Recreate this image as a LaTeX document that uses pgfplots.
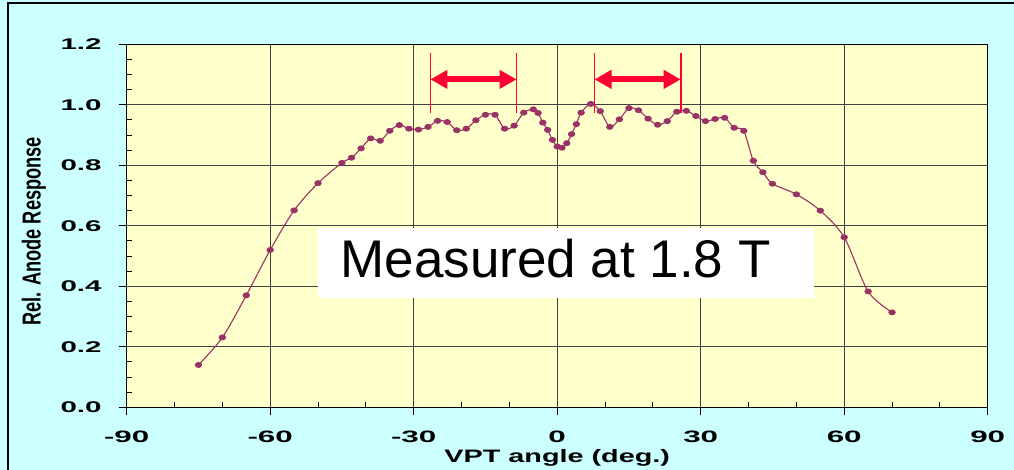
\documentclass[border=0pt]{standalone}
\usepackage{pgfplots}
\pgfplotsset{compat=1.18}
\usepackage{pgfplotstable}
\usepackage{fontspec}
\setmainfont{Liberation Sans}
\usepackage{graphicx}
\usetikzlibrary{arrows.meta}
\definecolor{bgcyan}{RGB}{204,255,255}
\definecolor{plotyellow}{RGB}{255,255,204}
\definecolor{curvecol}{RGB}{153,51,102}
\definecolor{arrowred}{RGB}{255,0,51}

\pgfplotstableread{
x y
-75 0.140
-70 0.231
-65 0.370
-60 0.520
-55 0.651
-50 0.741
-45 0.808
-43 0.825
-41 0.856
-39 0.889
-37 0.881
-35 0.914
-33 0.933
-31 0.921
-29 0.918
-27 0.927
-25 0.947
-23 0.943
-21 0.916
-19 0.921
-17 0.949
-15 0.967
-13 0.967
-11 0.921
-9 0.931
-7 0.974
-5 0.985
-4 0.973
-3 0.941
-2 0.917
-1 0.884
0 0.862
1 0.858
2 0.873
3 0.903
4 0.936
5 0.974
7 1.003
9 0.979
11 0.927
13 0.952
15 0.989
17 0.982
19 0.954
21 0.934
23 0.946
25 0.977
27 0.980
29 0.963
31 0.946
33 0.953
35 0.957
37 0.924
39 0.914
41 0.815
43 0.777
45 0.739
50 0.704
55 0.650
60 0.562
65 0.383
70 0.314
}\datatable

\begin{document}
\begin{tikzpicture}
\useasboundingbox (0,0) rectangle (1014bp,470bp);
\fill[bgcyan] (0,0) rectangle (1014bp,470bp);
\draw[line width=2bp] (8bp,0) -- (8bp,467bp) -- (1014bp,467bp);
\begin{axis}[
  at={(126.7bp,62.7bp)}, anchor=south west,
  scale only axis, width=861bp, height=363bp,
  xmin=-90, xmax=90, ymin=0, ymax=1.2,
  axis background/.style={fill=plotyellow},
  axis line style={black, line width=1.3bp},
  xtick={-90,-60,-30,0,30,60,90},
  ytick={0,0.2,0.4,0.6,0.8,1.0,1.2},
  minor x tick num=2, minor y tick num=3,
  xtick pos=left, ytick pos=left,
  tick align=outside,
  major tick length=8bp, minor tick length=5bp,
  tick style={black, line width=1bp},
  minor x tick style={yshift=5bp},
  minor y tick style={xshift=5bp},
  grid=major,
  major grid style={black!75, line width=1.2bp},
  /pgf/number format/assume math mode=true,
  xticklabel={\scalebox{1.9}[1]{\pgfmathprintnumber{\tick}}},
  yticklabel={\scalebox{1.9}[1]{\pgfmathprintnumber[fixed,fixed zerofill,precision=1]{\tick}}},
  xticklabel style={font=\fontsize{16.5bp}{18bp}\selectfont\bfseries, anchor=north, inner sep=0pt, yshift=-15bp},
  yticklabel style={font=\fontsize{15.5bp}{18bp}\selectfont\bfseries, anchor=east, inner sep=0pt, xshift=-17bp},
  xlabel={\scalebox{1.6}[1]{VPT angle (deg.)}},
  xlabel style={font=\fontsize{18bp}{20bp}\selectfont\bfseries, at={(axis description cs:0.5,-0.1507)}, anchor=base},
  ylabel={\scalebox{0.70}[1]{Rel. Anode Response}},
  ylabel style={font=\fontsize{26bp}{28bp}\selectfont\bfseries, at={(axis description cs:-0.1079,0.4843)}, anchor=center},
  clip=false,
]
\addplot[curvecol, line width=1.1bp, smooth, mark=*, mark size=2.4bp,
  mark options={fill=curvecol, draw=curvecol, xscale=1.3}] table[x=x,y=y] {\datatable};
\fill[white] (axis cs:-50,0.360) rectangle (axis cs:53.6,0.594);
\node[anchor=base west, font=\fontsize{53bp}{60bp}\selectfont, inner sep=0pt] at (axis cs:-45.35,0.430) {Measured at 1.8 T};
\draw[arrowred, line width=1.8bp] (axis cs:-26.5,1.172) -- (axis cs:-26.5,0.972);
\draw[arrowred, line width=1.8bp] (axis cs:-8.5,1.172) -- (axis cs:-8.5,0.972);
\draw[arrowred, line width=1.8bp] (axis cs:7.8,1.172) -- (axis cs:7.8,0.972);
\draw[arrowred, line width=1.8bp] (axis cs:25.8,1.172) -- (axis cs:25.8,0.972);
\draw[arrowred, line width=6bp, {Triangle[length=17bp,width=18bp]}-{Triangle[length=17bp,width=18bp]}] (axis cs:-26.5,1.084) -- (axis cs:-8.5,1.084);
\draw[arrowred, line width=6bp, {Triangle[length=17bp,width=18bp]}-{Triangle[length=17bp,width=18bp]}] (axis cs:7.8,1.084) -- (axis cs:25.8,1.084);
\end{axis}
\end{tikzpicture}
\end{document}
